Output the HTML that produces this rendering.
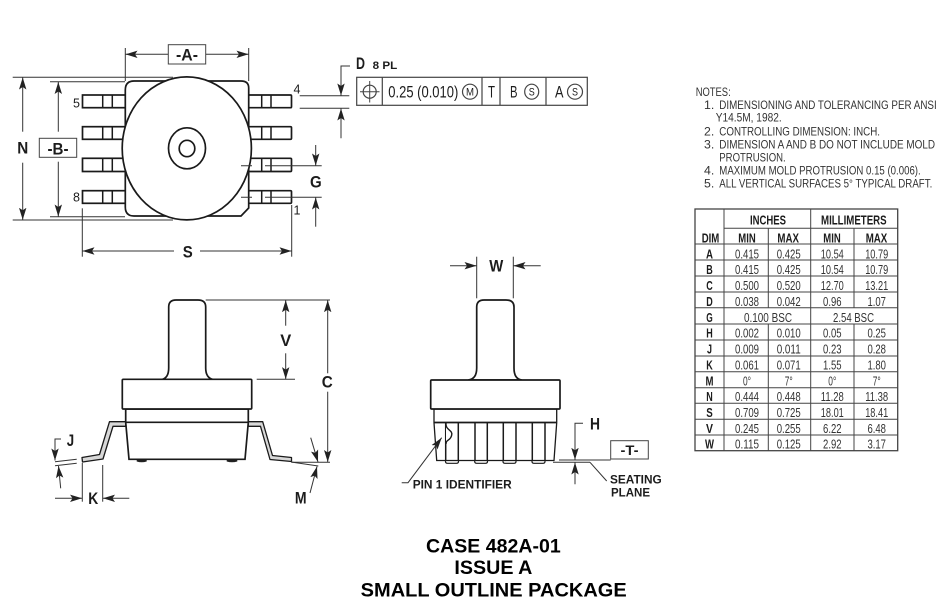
<!DOCTYPE html>
<html><head><meta charset="utf-8"><style>
html,body{margin:0;padding:0;background:#fff}
svg{display:block}
text{font-family:"Liberation Sans",sans-serif;fill:#1c1c1c}
.b{font-weight:bold}
.d line,.d path.l{stroke:#333;stroke-width:1;fill:none}
.o{fill:#fff;stroke:#1a1a1a;stroke-width:1.7}
.t text{font-size:12.5px;text-anchor:middle;fill:#333}
.t .b text{fill:#1c1c1c}
.n text{font-size:12.3px;fill:#333}
</style></head><body>
<svg width="951" height="613" viewBox="0 0 951 613" xmlns="http://www.w3.org/2000/svg">
<defs><marker id="a" markerUnits="userSpaceOnUse" markerWidth="13" markerHeight="9" refX="12" refY="4" orient="auto"><path d="M0,0.3L12,4L0,7.7L2.5,4Z" fill="#222"/></marker></defs>
<rect width="951" height="613" fill="#fff"/>

<!-- TOP VIEW pins -->
<g class="o">
<rect x="82.5" y="95" width="43" height="12.7"/><rect x="82.5" y="126.7" width="43" height="12.6"/><rect x="82.5" y="158.3" width="43" height="13.2"/><rect x="82.5" y="190.7" width="43" height="12.6"/>
<rect x="248" y="95" width="43.5" height="12.7" rx="1"/><rect x="248" y="126.7" width="43.5" height="12.6" rx="1"/><rect x="248" y="158.3" width="43.5" height="13.2" rx="1"/><rect x="248" y="190.7" width="43.5" height="12.6" rx="1"/>
</g>
<path d="M102.7,95V107.7M112.3,95V107.7M102.7,126.7V139.3M112.3,126.7V139.3M102.7,158.3V171.5M112.3,158.3V171.5M102.7,190.7V203.3M112.3,190.7V203.3M261.7,95V107.7M271,95V107.7M261.7,126.7V139.3M271,126.7V139.3M261.7,158.3V171.5M271,158.3V171.5M261.7,190.7V203.3M271,190.7V203.3" stroke="#1a1a1a" stroke-width="1.5" fill="none"/>
<path class="o" d="M134,81H241Q248.7,81 248.7,88V208L241,216H134Q125.3,216 125.3,207V90Q125.3,81 134,81Z"/>
<ellipse class="o" cx="186.8" cy="148.4" rx="64.6" ry="71.5"/>
<ellipse cx="187" cy="148.3" rx="18.5" ry="20.5" fill="none" stroke="#1a1a1a" stroke-width="1.7"/>
<ellipse cx="187" cy="148.5" rx="7.8" ry="8.2" fill="none" stroke="#1a1a1a" stroke-width="1.7"/>
<path d="M241,165.7H252M265,165.7H281M241,197.3H252M265,197.3H274" stroke="#333" stroke-width="1" fill="none"/>

<g class="d">
<line x1="125.3" y1="48" x2="125.3" y2="81"/><line x1="248.7" y1="48" x2="248.7" y2="81"/>
<line x1="168" y1="54.3" x2="125.5" y2="54.3" marker-end="url(#a)"/><line x1="205.7" y1="54.3" x2="248.5" y2="54.3" marker-end="url(#a)"/>
<line x1="12.7" y1="77.3" x2="173" y2="77.3"/><line x1="12.7" y1="220" x2="173" y2="220"/>
<line x1="22.7" y1="131.7" x2="22.7" y2="77.5" marker-end="url(#a)"/><line x1="22.7" y1="162.7" x2="22.7" y2="219.8" marker-end="url(#a)"/>
<line x1="50" y1="81.7" x2="125" y2="81.7"/><line x1="50" y1="216.7" x2="125" y2="216.7"/>
<line x1="58.3" y1="131.7" x2="58.3" y2="82" marker-end="url(#a)"/><line x1="58.3" y1="161.7" x2="58.3" y2="216.5" marker-end="url(#a)"/>
<line x1="82.3" y1="208.3" x2="82.3" y2="256.7"/><line x1="291.7" y1="205" x2="291.7" y2="256.7"/>
<line x1="174" y1="251" x2="82.5" y2="251" marker-end="url(#a)"/><line x1="200" y1="251" x2="291.5" y2="251" marker-end="url(#a)"/>
<line x1="281" y1="165.7" x2="321.7" y2="165.7"/><line x1="274" y1="197.3" x2="321.7" y2="197.3"/>
<line x1="315.7" y1="145" x2="315.7" y2="165.5" marker-end="url(#a)"/><line x1="315.7" y1="226.7" x2="315.7" y2="197.5" marker-end="url(#a)"/>
<line x1="299.7" y1="95.7" x2="349.3" y2="95.7"/><line x1="299.7" y1="108.3" x2="349.3" y2="108.3"/>
<path class="l" d="M350,66H341V95.5" marker-end="url(#a)"/><line x1="341" y1="138.3" x2="341" y2="108.5" marker-end="url(#a)"/>
</g>
<rect x="168.3" y="44.7" width="37.4" height="19.3" fill="#fff" stroke="#444"/>
<rect x="39.3" y="138.3" width="37.4" height="19" fill="#fff" stroke="#444"/>
<g class="b" font-size="16.5" text-anchor="middle">
<text x="187" y="60.7" textLength="22" lengthAdjust="spacingAndGlyphs">-A-</text>
<text x="58" y="154.3" textLength="21" lengthAdjust="spacingAndGlyphs">-B-</text>
<text x="22.8" y="153.3" textLength="11" lengthAdjust="spacingAndGlyphs">N</text>
<text x="187.7" y="257.3" textLength="10" lengthAdjust="spacingAndGlyphs">S</text>
<text x="315.8" y="187.3" textLength="11.7" lengthAdjust="spacingAndGlyphs">G</text>
</g>
<g font-size="12.5" text-anchor="middle" fill="#333">
<text x="76.5" y="107.7">5</text>
<text x="76.5" y="201.7">8</text>
<text x="297" y="93.3">4</text>
<text x="297" y="214.3">1</text>
</g>

<!-- FCF -->
<text class="b" x="360.5" y="69" font-size="17" text-anchor="middle" textLength="9" lengthAdjust="spacingAndGlyphs">D</text>
<text class="b" x="372.7" y="69" font-size="11" textLength="24.6" lengthAdjust="spacingAndGlyphs">8 PL</text>
<g fill="none" stroke="#444" stroke-width="1.2">
<rect x="356.7" y="77.3" width="230.6" height="28"/>
<path d="M382.3,77.3V105.3M482,77.3V105.3M500,77.3V105.3M546,77.3V105.3"/>
<circle cx="369.7" cy="91.7" r="6.5"/><path d="M360,91.7H379.5M369.7,81V102.5" stroke-width="1"/>
<ellipse cx="470" cy="91.7" rx="7.5" ry="7.5"/><ellipse cx="531.7" cy="91.7" rx="7" ry="7.5"/><ellipse cx="575" cy="91.7" rx="7.5" ry="7.5"/>
</g>
<g font-size="17" fill="#333">
<text x="388.3" y="97.5" textLength="70" lengthAdjust="spacingAndGlyphs">0.25 (0.010)</text>
<text x="491.5" y="97.5" text-anchor="middle" textLength="7" lengthAdjust="spacingAndGlyphs">T</text>
<text x="513.7" y="97.5" text-anchor="middle" textLength="7.5" lengthAdjust="spacingAndGlyphs">B</text>
<text x="559.2" y="97.5" text-anchor="middle" textLength="8.5" lengthAdjust="spacingAndGlyphs">A</text>
</g>
<g font-size="11" text-anchor="middle">
<text x="470" y="95.5" textLength="8" lengthAdjust="spacingAndGlyphs">M</text>
<text x="531.7" y="95.5" textLength="6" lengthAdjust="spacingAndGlyphs">S</text>
<text x="575" y="95.5" textLength="6" lengthAdjust="spacingAndGlyphs">S</text>
</g>

<!-- NOTES -->
<g class="n">
<text x="695.7" y="96" textLength="35" lengthAdjust="spacingAndGlyphs">NOTES:</text>
<text x="704" y="109">1.</text><text x="719.3" y="109" textLength="217.4" lengthAdjust="spacingAndGlyphs">DIMENSIONING AND TOLERANCING PER ANSI</text>
<text x="715.7" y="121.7" textLength="66" lengthAdjust="spacingAndGlyphs">Y14.5M, 1982.</text>
<text x="704" y="135.7">2.</text><text x="719.3" y="135.7" textLength="160.7" lengthAdjust="spacingAndGlyphs">CONTROLLING DIMENSION: INCH.</text>
<text x="704" y="148.3">3.</text><text x="719.3" y="148.3" textLength="215.7" lengthAdjust="spacingAndGlyphs">DIMENSION A AND B DO NOT INCLUDE MOLD</text>
<text x="719.3" y="161.7" textLength="66.4" lengthAdjust="spacingAndGlyphs">PROTRUSION.</text>
<text x="704" y="174.3">4.</text><text x="719.3" y="174.3" textLength="201.4" lengthAdjust="spacingAndGlyphs">MAXIMUM MOLD PROTRUSION 0.15 (0.006).</text>
<text x="704" y="187.7">5.</text><text x="719.3" y="187.7" textLength="213" lengthAdjust="spacingAndGlyphs">ALL VERTICAL SURFACES 5° TYPICAL DRAFT.</text>
</g>

<!-- TABLE -->
<g stroke="#444" stroke-width="1" fill="none">
<rect x="695" y="209" width="202.7" height="241.7" stroke-width="1.3"/>
<path d="M724,209V450.7M768.3,228.3V307.7M768.3,324V450.7M810.7,209V450.7M854,228.3V307.7M854,324V450.7"/>
<path d="M724,228.3H897.7M695,244H897.7M695,260H897.7M695,276H897.7M695,292H897.7M695,307.7H897.7M695,324H897.7M695,340H897.7M695,356H897.7M695,371.7H897.7M695,387.7H897.7M695,403.3H897.7M695,419.3H897.7M695,435H897.7"/>
</g>
<g class="t">
<g class="b">
<text x="768" y="224.3" textLength="36" lengthAdjust="spacingAndGlyphs">INCHES</text>
<text x="853.8" y="224.3" textLength="65.6" lengthAdjust="spacingAndGlyphs">MILLIMETERS</text>
<text x="710.5" y="242.3" textLength="17.6" lengthAdjust="spacingAndGlyphs">DIM</text>
<text x="747" y="242.3" textLength="17.4" lengthAdjust="spacingAndGlyphs">MIN</text>
<text x="788.2" y="242.3" textLength="21.6" lengthAdjust="spacingAndGlyphs">MAX</text>
<text x="832" y="242.3" textLength="17.4" lengthAdjust="spacingAndGlyphs">MIN</text>
<text x="876.5" y="242.3" textLength="21.6" lengthAdjust="spacingAndGlyphs">MAX</text>
<text x="709.5" y="258.3" textLength="7" lengthAdjust="spacingAndGlyphs">A</text>
<text x="709.5" y="274.2" textLength="6.5" lengthAdjust="spacingAndGlyphs">B</text>
<text x="709.5" y="290" textLength="6.5" lengthAdjust="spacingAndGlyphs">C</text>
<text x="709.5" y="305.9" textLength="6.5" lengthAdjust="spacingAndGlyphs">D</text>
<text x="709.5" y="321.8" textLength="6.5" lengthAdjust="spacingAndGlyphs">G</text>
<text x="709.5" y="337.7" textLength="6.5" lengthAdjust="spacingAndGlyphs">H</text>
<text x="709.5" y="353.5" textLength="5" lengthAdjust="spacingAndGlyphs">J</text>
<text x="709.5" y="369.4" textLength="6.5" lengthAdjust="spacingAndGlyphs">K</text>
<text x="709.5" y="385.3" textLength="8" lengthAdjust="spacingAndGlyphs">M</text>
<text x="709.5" y="401.1" textLength="6.5" lengthAdjust="spacingAndGlyphs">N</text>
<text x="709.5" y="417" textLength="6.5" lengthAdjust="spacingAndGlyphs">S</text>
<text x="709.5" y="432.9" textLength="7" lengthAdjust="spacingAndGlyphs">V</text>
<text x="709.5" y="448.7" textLength="9" lengthAdjust="spacingAndGlyphs">W</text>
</g>
<text x="747" y="258.3" textLength="24" lengthAdjust="spacingAndGlyphs">0.415</text><text x="788.7" y="258.3" textLength="24" lengthAdjust="spacingAndGlyphs">0.425</text><text x="832.3" y="258.3" textLength="23" lengthAdjust="spacingAndGlyphs">10.54</text><text x="876.7" y="258.3" textLength="23" lengthAdjust="spacingAndGlyphs">10.79</text>
<text x="747" y="274.2" textLength="24" lengthAdjust="spacingAndGlyphs">0.415</text><text x="788.7" y="274.2" textLength="24" lengthAdjust="spacingAndGlyphs">0.425</text><text x="832.3" y="274.2" textLength="23" lengthAdjust="spacingAndGlyphs">10.54</text><text x="876.7" y="274.2" textLength="23" lengthAdjust="spacingAndGlyphs">10.79</text>
<text x="747" y="290" textLength="24" lengthAdjust="spacingAndGlyphs">0.500</text><text x="788.7" y="290" textLength="24" lengthAdjust="spacingAndGlyphs">0.520</text><text x="832.3" y="290" textLength="23" lengthAdjust="spacingAndGlyphs">12.70</text><text x="876.7" y="290" textLength="23" lengthAdjust="spacingAndGlyphs">13.21</text>
<text x="747" y="305.9" textLength="24" lengthAdjust="spacingAndGlyphs">0.038</text><text x="788.7" y="305.9" textLength="24" lengthAdjust="spacingAndGlyphs">0.042</text><text x="832.3" y="305.9" textLength="18.5" lengthAdjust="spacingAndGlyphs">0.96</text><text x="876.7" y="305.9" textLength="18.5" lengthAdjust="spacingAndGlyphs">1.07</text>
<text x="768" y="321.8" textLength="48" lengthAdjust="spacingAndGlyphs">0.100 BSC</text><text x="853.5" y="321.8" textLength="41" lengthAdjust="spacingAndGlyphs">2.54 BSC</text>
<text x="747" y="337.7" textLength="24" lengthAdjust="spacingAndGlyphs">0.002</text><text x="788.7" y="337.7" textLength="24" lengthAdjust="spacingAndGlyphs">0.010</text><text x="832.3" y="337.7" textLength="18.5" lengthAdjust="spacingAndGlyphs">0.05</text><text x="876.7" y="337.7" textLength="18.5" lengthAdjust="spacingAndGlyphs">0.25</text>
<text x="747" y="353.5" textLength="24" lengthAdjust="spacingAndGlyphs">0.009</text><text x="788.7" y="353.5" textLength="24" lengthAdjust="spacingAndGlyphs">0.011</text><text x="832.3" y="353.5" textLength="18.5" lengthAdjust="spacingAndGlyphs">0.23</text><text x="876.7" y="353.5" textLength="18.5" lengthAdjust="spacingAndGlyphs">0.28</text>
<text x="747" y="369.4" textLength="24" lengthAdjust="spacingAndGlyphs">0.061</text><text x="788.7" y="369.4" textLength="24" lengthAdjust="spacingAndGlyphs">0.071</text><text x="832.3" y="369.4" textLength="18.5" lengthAdjust="spacingAndGlyphs">1.55</text><text x="876.7" y="369.4" textLength="18.5" lengthAdjust="spacingAndGlyphs">1.80</text>
<text x="747" y="385.3" textLength="8" lengthAdjust="spacingAndGlyphs">0°</text><text x="788.7" y="385.3" textLength="8" lengthAdjust="spacingAndGlyphs">7°</text><text x="832.3" y="385.3" textLength="8" lengthAdjust="spacingAndGlyphs">0°</text><text x="876.7" y="385.3" textLength="8" lengthAdjust="spacingAndGlyphs">7°</text>
<text x="747" y="401.1" textLength="24" lengthAdjust="spacingAndGlyphs">0.444</text><text x="788.7" y="401.1" textLength="24" lengthAdjust="spacingAndGlyphs">0.448</text><text x="832.3" y="401.1" textLength="23" lengthAdjust="spacingAndGlyphs">11.28</text><text x="876.7" y="401.1" textLength="23" lengthAdjust="spacingAndGlyphs">11.38</text>
<text x="747" y="417" textLength="24" lengthAdjust="spacingAndGlyphs">0.709</text><text x="788.7" y="417" textLength="24" lengthAdjust="spacingAndGlyphs">0.725</text><text x="832.3" y="417" textLength="23" lengthAdjust="spacingAndGlyphs">18.01</text><text x="876.7" y="417" textLength="23" lengthAdjust="spacingAndGlyphs">18.41</text>
<text x="747" y="432.9" textLength="24" lengthAdjust="spacingAndGlyphs">0.245</text><text x="788.7" y="432.9" textLength="24" lengthAdjust="spacingAndGlyphs">0.255</text><text x="832.3" y="432.9" textLength="18.5" lengthAdjust="spacingAndGlyphs">6.22</text><text x="876.7" y="432.9" textLength="18.5" lengthAdjust="spacingAndGlyphs">6.48</text>
<text x="747" y="448.7" textLength="24" lengthAdjust="spacingAndGlyphs">0.115</text><text x="788.7" y="448.7" textLength="24" lengthAdjust="spacingAndGlyphs">0.125</text><text x="832.3" y="448.7" textLength="18.5" lengthAdjust="spacingAndGlyphs">2.92</text><text x="876.7" y="448.7" textLength="18.5" lengthAdjust="spacingAndGlyphs">3.17</text>
</g>

<!-- SIDE VIEW LEFT -->
<path d="M125.7,421.7H109.5L99.5,454.5L82,457.5L82.5,462L103,459L113,426.3H125.7Z" fill="#d8d8d8" stroke="#1a1a1a" stroke-width="1.3" stroke-linejoin="round"/>
<path d="M248.3,421.7H262.7L272.5,455.5L291.5,457.5V461.5L270,459.5L260.5,426.3H248.3Z" fill="#d8d8d8" stroke="#1a1a1a" stroke-width="1.3" stroke-linejoin="round"/>
<path d="M136.7,459.5H146.7V461.5Q141.7,463 136.7,461.5ZM226.7,459.5H237.3V461.5Q232,463 226.7,461.5Z" fill="#222"/>
<path class="o" d="M125.7,409H248.3V422.3L245,459.3H129L125.7,422.3Z"/>
<path d="M125.7,422.3H248.3" stroke="#1a1a1a" stroke-width="1.7"/>
<path class="o" d="M161.7,379.5Q168.7,378 168.7,368V307Q168.7,300 176,300H198Q205.7,300 205.7,307V368Q205.7,378 213.3,379.5Z"/>
<rect class="o" x="122.3" y="379.3" width="129.4" height="29.7" rx="1"/>
<g class="d">
<line x1="205.7" y1="300" x2="330" y2="300"/><line x1="256.7" y1="379.3" x2="295" y2="379.3"/>
<line x1="285.7" y1="325.7" x2="285.7" y2="300.2" marker-end="url(#a)"/><line x1="285.7" y1="353.3" x2="285.7" y2="379.1" marker-end="url(#a)"/>
<line x1="327.7" y1="373.3" x2="327.7" y2="300.2" marker-end="url(#a)"/><line x1="327.7" y1="391.7" x2="327.7" y2="462" marker-end="url(#a)"/>
<line x1="291.7" y1="462.3" x2="330" y2="462.3"/><line x1="291" y1="462" x2="318.3" y2="466"/>
<line x1="310.7" y1="437.7" x2="318" y2="462" marker-end="url(#a)"/><line x1="310" y1="493" x2="317" y2="466.5" marker-end="url(#a)"/>
<path class="l" d="M61,439H55V460.5" marker-end="url(#a)"/>
<line x1="55" y1="461.7" x2="76.7" y2="459.3"/><line x1="55" y1="465.7" x2="76.7" y2="463.3"/>
<line x1="60.7" y1="488.3" x2="58.5" y2="466" marker-end="url(#a)"/>
<line x1="82.3" y1="463" x2="82.3" y2="501.7"/><line x1="102.7" y1="465" x2="102.7" y2="501.7"/>
<line x1="55" y1="498.3" x2="82" y2="498.3" marker-end="url(#a)"/><line x1="129.3" y1="498.3" x2="103" y2="498.3" marker-end="url(#a)"/>
</g>
<g class="b" font-size="16.5" text-anchor="middle">
<text x="285.7" y="346" textLength="11" lengthAdjust="spacingAndGlyphs">V</text>
<text x="327.2" y="387.7" textLength="11" lengthAdjust="spacingAndGlyphs">C</text>
<text x="300.7" y="503.3" textLength="11.7" lengthAdjust="spacingAndGlyphs">M</text>
<text x="70.5" y="446" textLength="7.4" lengthAdjust="spacingAndGlyphs">J</text>
<text x="93.3" y="504" textLength="10" lengthAdjust="spacingAndGlyphs">K</text>
<text x="496.3" y="271.7" textLength="14" lengthAdjust="spacingAndGlyphs">W</text>
<text x="595" y="429.3" textLength="10" lengthAdjust="spacingAndGlyphs">H</text>
</g>

<!-- SIDE VIEW RIGHT -->
<path d="M445.5,458V461.5Q445.5,463.3 447.5,463.3H456.5Q458.5,463.3 458.5,461.5V458M474.7,458V461.5Q474.7,463.3 476.7,463.3H485.5Q487.5,463.3 487.5,461.5V458M503,458V461.5Q503,463.3 505,463.3H514Q516,463.3 516,461.5V458M532,458V461.5Q532,463.3 534,463.3H543Q545,463.3 545,461.5V458" fill="none" stroke="#1a1a1a" stroke-width="1.2"/>
<path d="M434,409H556.7V422.7L554,460.5H436.7L434,422.7Z" fill="#fff" stroke="#1a1a1a" stroke-width="1.3"/>
<path d="M434,422.5H556.7" stroke="#1a1a1a" stroke-width="1.7"/>
<path d="M445.7,422.7V461M458.3,422.7V461M475,422.7V461M487.3,422.7V461M503.3,422.7V461M516,422.7V461M532.3,422.7V461M545,422.7V461" stroke="#1a1a1a" stroke-width="1.5" fill="none"/>
<path d="M446,423C445,430 453,430 451.7,435C450.7,441 446,439 446,444" fill="#fff" stroke="#1a1a1a" stroke-width="1.4"/>
<path class="o" d="M468.3,380Q476.7,379 476.7,368V307Q476.7,300 484,300H506Q514,300 514,307V368Q514,379 521.7,380Z"/>
<rect class="o" x="430.7" y="380" width="129.3" height="29" rx="1"/>
<g class="d">
<line x1="476.7" y1="256.7" x2="476.7" y2="298.3"/><line x1="513.3" y1="256.7" x2="513.3" y2="298.3"/>
<line x1="450" y1="265.7" x2="476.5" y2="265.7" marker-end="url(#a)"/><line x1="540.7" y1="265.7" x2="513.5" y2="265.7" marker-end="url(#a)"/>
<path class="l" d="M401.7,482.7H408L441.7,437.7" marker-end="url(#a)"/>
<path class="l" d="M583,423.3H575V459.8" marker-end="url(#a)"/>
<line x1="575" y1="484.3" x2="575" y2="462.5" marker-end="url(#a)"/>
<line x1="559" y1="460" x2="610.7" y2="460"/><line x1="553" y1="462.3" x2="590" y2="462.3"/>
<line x1="590" y1="462.3" x2="606.7" y2="481"/>
</g>
<rect x="610.7" y="440.7" width="37.6" height="18.3" fill="#fff" stroke="#444"/>
<text class="b" x="629.5" y="455" font-size="14" text-anchor="middle" textLength="18" lengthAdjust="spacingAndGlyphs">-T-</text>
<text class="b" x="412.7" y="488.3" font-size="12" textLength="99" lengthAdjust="spacingAndGlyphs">PIN 1 IDENTIFIER</text>
<text class="b" x="610" y="483.3" font-size="12" textLength="51.7" lengthAdjust="spacingAndGlyphs">SEATING</text>
<text class="b" x="611" y="496.7" font-size="12" textLength="39" lengthAdjust="spacingAndGlyphs">PLANE</text>

<!-- CAPTION -->
<g class="b" font-size="19.5" text-anchor="middle">
<text x="493.4" y="552.7" textLength="134.7" lengthAdjust="spacingAndGlyphs" style="fill:#000">CASE 482A-01</text>
<text x="493.4" y="574" textLength="78" lengthAdjust="spacingAndGlyphs" style="fill:#000">ISSUE A</text>
<text x="493.7" y="596.7" textLength="266" lengthAdjust="spacingAndGlyphs" style="fill:#000">SMALL OUTLINE PACKAGE</text>
</g>
</svg>
</body></html>
